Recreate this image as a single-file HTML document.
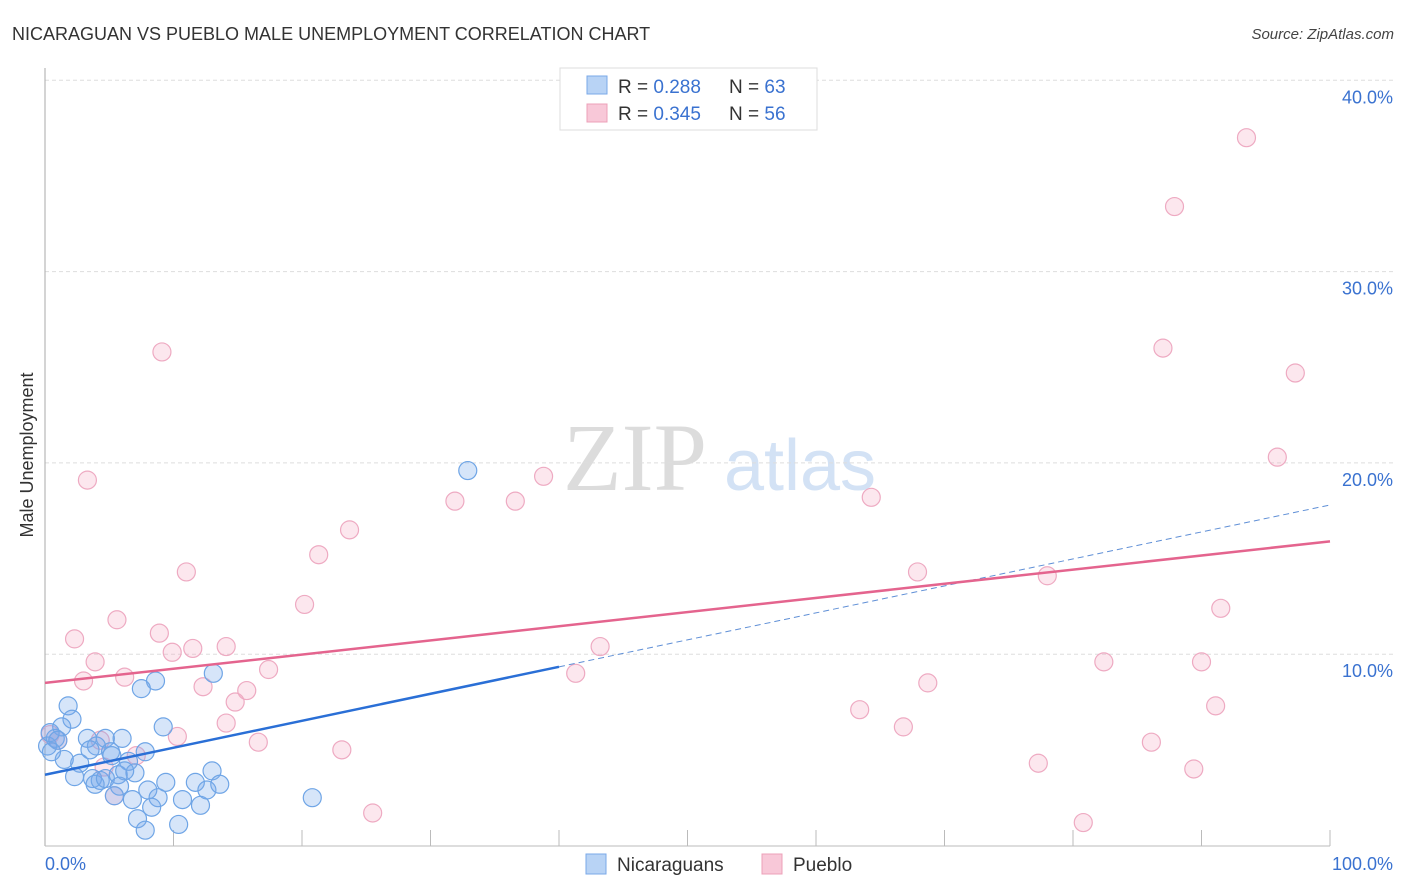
<!DOCTYPE html>
<html><head><meta charset="utf-8"><style>
body{margin:0;background:#fff;font-family:"Liberation Sans",sans-serif;}
svg{display:block}
</style></head><body>
<svg id="chart" width="1406" height="892">
<text x="12" y="40" font-size="18" fill="#333">NICARAGUAN VS PUEBLO MALE UNEMPLOYMENT CORRELATION CHART</text>
<text x="1394" y="39" font-size="15" fill="#444" font-style="italic" text-anchor="end">Source: ZipAtlas.com</text>
<text x="33" y="455" font-size="18" fill="#333" text-anchor="middle" transform="rotate(-90 33 455)">Male Unemployment</text>
<text x="635" y="490" font-size="96" fill="#dcdcdc" font-family="Liberation Serif,serif" text-anchor="middle">ZIP</text>
<text x="800" y="490" font-size="72" fill="#d3e2f5" text-anchor="middle">atlas</text>
<g id="grid"></g>
<g id="pts"></g>
<g id="lines"></g>
<g>
<rect x="560" y="68" width="257" height="62" fill="#fff" stroke="#ddd"/>
<rect x="587" y="76" width="20" height="18" fill="#b8d3f5" stroke="#7aa8e8"/>
<rect x="587" y="104" width="20" height="18" fill="#f8c8d8" stroke="#eca0b8"/>
<text x="618" y="93" font-size="19" fill="#333">R = <tspan fill="#3a72d0">0.288</tspan></text>
<text x="729" y="93" font-size="19" fill="#333">N = <tspan fill="#3a72d0">63</tspan></text>
<text x="618" y="120" font-size="19" fill="#333">R = <tspan fill="#3a72d0">0.345</tspan></text>
<text x="729" y="120" font-size="19" fill="#333">N = <tspan fill="#3a72d0">56</tspan></text>
</g>
<g>
<rect x="586" y="854" width="20" height="20" fill="#b8d3f5" stroke="#7aa8e8"/>
<text x="617" y="871" font-size="19" fill="#333">Nicaraguans</text>
<rect x="762" y="854" width="20" height="20" fill="#f8c8d8" stroke="#eca0b8"/>
<text x="793" y="871" font-size="19" fill="#333">Pueblo</text>
</g>
</svg>
<script>
const yTicks=[10,20,30,40];
const yTickLabels=["10.0%","20.0%","30.0%","40.0%"];
const xTickLabels=["0.0%","100.0%"];
const blueX=[32.9,8.6,7.5,13.1,9.2,1.8,2.1,1.3,0.2,0.8,0.4,1.0,3.3,4.7,4.0,3.5,1.5,2.7,5.1,5.2,7.8,6.5,2.3,3.7,4.3,3.9,4.7,5.7,7.0,6.2,5.8,5.4,6.8,8.0,8.8,9.4,10.7,11.7,12.1,12.6,13.0,13.6,8.3,7.2,7.8,10.4,20.8,6.0,0.5];
const blueY=[19.6,8.6,8.2,9.0,6.2,7.3,6.6,6.2,5.2,5.6,5.9,5.5,5.6,5.6,5.2,5.0,4.5,4.3,4.9,4.7,4.9,4.4,3.6,3.5,3.4,3.2,3.5,3.7,3.8,3.9,3.1,2.6,2.4,2.9,2.5,3.3,2.4,3.3,2.1,2.9,3.9,3.2,2.0,1.4,0.8,1.1,2.5,5.6,4.9];
const pinkX=[93.5,87.9,87.0,97.3,9.1,95.9,38.8,31.9,36.6,64.3,3.3,23.7,21.3,11.0,67.9,78.0,20.2,91.5,5.6,8.9,2.3,11.5,14.1,9.9,43.2,3.9,82.4,90.0,41.3,17.4,6.2,3.0,68.7,12.3,15.7,14.8,91.1,63.4,14.1,66.8,10.3,16.6,86.1,23.1,7.1,77.3,89.4,5.4,25.5,80.8,4.6,0.4,1.0,4.3];
const pinkY=[37.0,33.4,26.0,24.7,25.8,20.3,19.3,18.0,18.0,18.2,19.1,16.5,15.2,14.3,14.3,14.1,12.6,12.4,11.8,11.1,10.8,10.3,10.4,10.1,10.4,9.6,9.6,9.6,9.0,9.2,8.8,8.6,8.5,8.3,8.1,7.5,7.3,7.1,6.4,6.2,5.7,5.4,5.4,5.0,4.7,4.3,4.0,2.6,1.7,1.2,4.1,5.8,5.5,5.5];
const blueTrend=[3.7,17.8];
const pinkTrend=[8.5,15.9];
const NS="http://www.w3.org/2000/svg";
const sx=v=>45+v*12.85, sy=v=>845.5-v*19.13;
function mk(t,a,p){const e=document.createElementNS(NS,t);for(const k in a)e.setAttribute(k,a[k]);p.appendChild(e);return e;}
const g=document.getElementById('grid');
yTicks.forEach((t,i)=>{
 const l=mk('line',{x1:45,x2:1393,y1:sy(t),y2:sy(t),stroke:'#ddd','stroke-dasharray':'4,3'},g);
 
 
 const tx=mk('text',{x:1393,y:sy(t)+23,'font-size':18,fill:'#3a72d0','text-anchor':'end'},g);
 tx.textContent=yTickLabels[i];
 
 
});
const ax=mk('line',{x1:45,x2:45,y1:68,y2:846,stroke:'#aaa'},g);


const bx=mk('line',{x1:45,x2:1330,y1:846,y2:846,stroke:'#bbb'},g);


for(let i=1;i<=10;i++){const t=mk('line',{x1:sx(i*10),x2:sx(i*10),y1:830,y2:846,stroke:'#bbb'},g);
 
 }
const xl0=mk('text',{x:45,y:870,'font-size':18,fill:'#3a72d0'},g);xl0.textContent=xTickLabels[0];


const xl1=mk('text',{x:1393,y:870,'font-size':18,fill:'#3a72d0','text-anchor':'end'},g);xl1.textContent=xTickLabels[1];


const p=document.getElementById('pts');
pinkX.forEach((x,i)=>{const c=mk('circle',{cx:sx(x),cy:sy(pinkY[i]),r:9,fill:'rgba(244,170,195,0.28)',stroke:'#eeaac2','stroke-width':1.2},p);
 
 });
blueX.forEach((x,i)=>{const c=mk('circle',{cx:sx(x),cy:sy(blueY[i]),r:9,fill:'rgba(120,170,235,0.3)',stroke:'#6fa5e6','stroke-width':1.2},p);
 
 });
const L=document.getElementById('lines');
const bf=x=>blueTrend[0]+(blueTrend[1]-blueTrend[0])*x/100;
const l1=mk('line',{x1:sx(0),y1:sy(bf(0)),x2:sx(40),y2:sy(bf(40)),stroke:'#2a6fd6','stroke-width':2.5},L);


const l2=mk('line',{x1:sx(40),y1:sy(bf(40)),x2:sx(100),y2:sy(bf(100)),stroke:'#5f8fd6','stroke-width':1,'stroke-dasharray':'6,4'},L);


const l3=mk('line',{x1:sx(0),y1:sy(pinkTrend[0]),x2:sx(100),y2:sy(pinkTrend[1]),stroke:'#e4648e','stroke-width':2.5},L);


</script>
</body></html>
